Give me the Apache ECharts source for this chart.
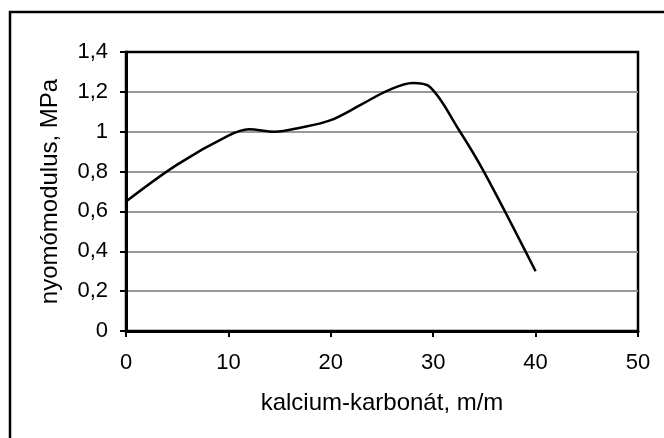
<!DOCTYPE html>
<html>
<head>
<meta charset="utf-8">
<style>
  html, body { margin: 0; padding: 0; background: #fff; }
  #chart { width: 664px; height: 438px; }
</style>
<script src="https://cdn.jsdelivr.net/npm/echarts@6/dist/echarts.min.js"></script>
</head>
<body>
<div id="chart"></div>
<script>
// Data
const xValues = [0, 5, 10, 12, 14.5, 17, 20, 23, 25.5, 28, 29.6, 32.5, 35, 40];
const yValues = [0.65, 0.835, 0.98, 1.012, 1.0, 1.02, 1.058, 1.137, 1.205, 1.245, 1.228, 1.01, 0.795, 0.3];
const xTickLabels = ['0', '10', '20', '30', '40', '50'];
const yTickLabels = ['0', '0,2', '0,4', '0,6', '0,8', '1', '1,2', '1,4'];
const xAxisTitle = 'kalcium-karbonát, m/m';
const yAxisTitle = 'nyomómodulus, MPa';

const seriesData = xValues.map((x, i) => [x, yValues[i]]);
const font = '"Liberation Sans", Arial, sans-serif';

const chart = echarts.init(document.getElementById('chart'), null, { renderer: 'canvas' });
chart.setOption({
  animation: false,
  backgroundColor: '#fff',
  graphic: [{
    type: 'rect',
    shape: { x: 10, y: 12, width: 700, height: 500 },
    style: { fill: 'none', stroke: '#000', lineWidth: 2.5 },
    silent: true,
    z: 100
  }],
  grid: {
    left: 126, right: 26, top: 52, bottom: 107,
    show: true, borderColor: '#000', borderWidth: 2.5, backgroundColor: 'transparent'
  },
  xAxis: {
    type: 'value', min: 0, max: 50, interval: 10,
    name: xAxisTitle, nameLocation: 'middle', nameGap: 60,
    nameTextStyle: { fontFamily: font, fontSize: 24, color: '#000' },
    axisLine: { show: true, lineStyle: { color: '#000', width: 3 } },
    axisTick: { show: true, inside: false, length: 6, lineStyle: { color: '#000', width: 2 } },
    axisLabel: {
      fontFamily: font, fontSize: 22, color: '#000', margin: 21,
      formatter: (v) => xTickLabels[Math.round(v / 10)]
    },
    splitLine: { show: false }
  },
  yAxis: {
    type: 'value', min: 0, max: 1.4, interval: 0.2,
    name: yAxisTitle, nameLocation: 'middle', nameGap: 64, nameRotate: 90,
    nameTextStyle: { fontFamily: font, fontSize: 24, color: '#000' },
    axisLine: { show: true, lineStyle: { color: '#000', width: 3 } },
    axisTick: { show: true, inside: false, length: 6, lineStyle: { color: '#000', width: 2 } },
    axisLabel: {
      fontFamily: font, fontSize: 22, color: '#000', margin: 18,
      formatter: (v) => yTickLabels[Math.round(v / 0.2)]
    },
    splitLine: { show: true, showMinLine: false, showMaxLine: false, lineStyle: { color: '#999', width: 2 } }
  },
  series: [{
    type: 'line',
    data: seriesData,
    smooth: 0.35,
    symbol: 'none',
    lineStyle: { color: '#000', width: 2.5 }
  }]
});
</script>
</body>
</html>
